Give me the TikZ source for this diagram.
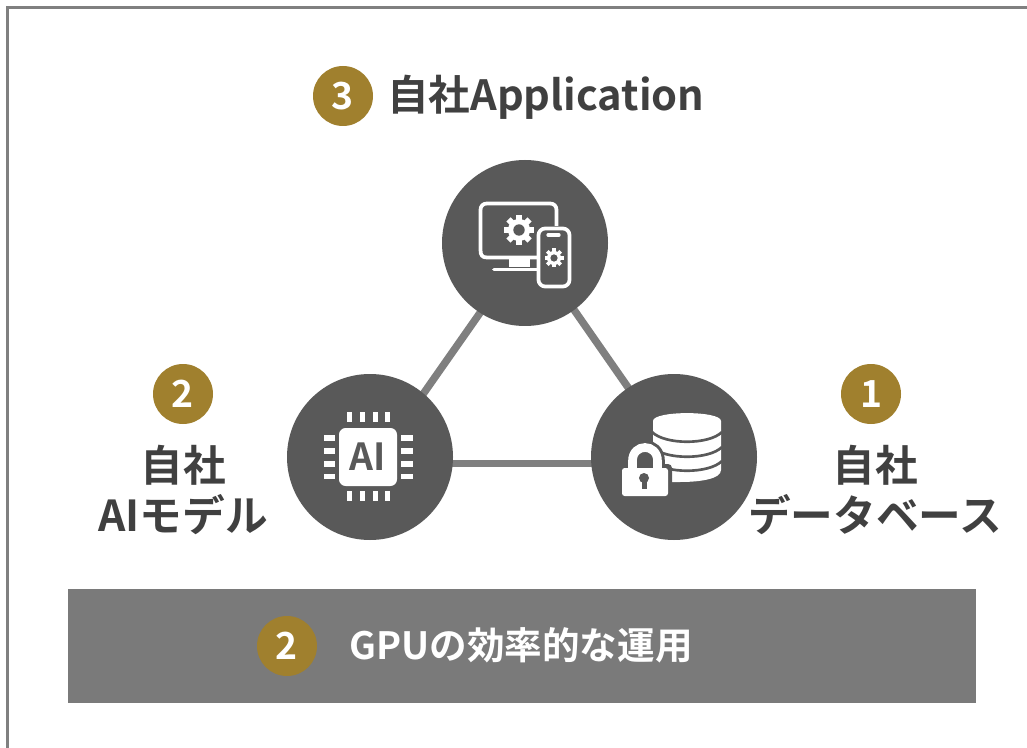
\documentclass[tikz,border=0pt]{standalone}
\usepackage{fontspec}
\setmainfont{Noto Sans CJK JP}[BoldFont={Noto Sans CJK JP Bold}]
\usetikzlibrary{backgrounds}
\definecolor{hubgray}{HTML}{595959}
\definecolor{linkgray}{HTML}{7F7F7F}
\definecolor{bargray}{HTML}{7A7A7A}
\definecolor{framegray}{HTML}{808080}
\definecolor{gold}{HTML}{A0802E}
\definecolor{ink}{HTML}{404040}
\tikzset{
  hub/.style={circle,fill=hubgray,minimum size=124.5pt,inner sep=0pt},
  link/.style={draw=linkgray,line width=5.6pt},
  badge/.style={circle,fill=gold,minimum size=45pt,inner sep=0pt,text=white,font=\bfseries\fontsize{28}{28}\selectfont},
  title/.style={text=ink,inner sep=0pt,align=center,font=\bfseries\fontsize{32}{37.5}\selectfont},
  icon/.style={draw=white,line width=2.8pt,line join=round},
}
\newcommand{\gearicon}[3]{%
  \fill[white] (#1,#2) circle ({0.74*#3});
  \foreach \a in {0,45,...,315}{
    \fill[white,shift={(#1,#2)},rotate=\a] ({0.62*#3},{-0.2*#3}) rectangle (#3,{0.2*#3});
  }
  \fill[hubgray] (#1,#2) circle ({0.38*#3});
}
\begin{document}
\begin{tikzpicture}[x=0.75pt,y=-0.75pt]
\useasboundingbox (0,0) rectangle (1027,748);
\draw[framegray,line width=2.2pt] (7.5,748) -- (7.5,7.3) -- (1027,7.3);

% hubs
\node[hub] (app) at (525,243) {};
\node[hub] (ai) at (370,457) {};
\node[hub] (db) at (674,457) {};
\begin{pgfonlayer}{background}
  \draw[link] ([shift={(4,0)}]app.center) -- ([shift={(9,0)}]ai.center);
  \draw[link] ([shift={(2.5,0)}]app.center) -- ([shift={(2.5,0)}]db.center);
  \draw[link] ([shift={(0,6.5)}]ai.center) -- ([shift={(0,6.5)}]db.center);
\end{pgfonlayer}

% bar
\node[fill=bargray,minimum width=681pt,minimum height=85.5pt,inner sep=0pt] (bar) at (522,646) {};
\node[inner sep=0pt,text=white,font=\bfseries\fontsize{28.2}{28.2}\selectfont] (bartext) at (521,645.5) {GPUの効率的な運用};

% badges and titles
\node[badge] (b3) at (343,96) {3};
\node[title,anchor=west,font=\bfseries\fontsize{31.2}{37.5}\selectfont] (t3) at (387,97) {自社Application};
\node[badge] (b2) at (183,394) {2};
\node[title] (t2) at (183,490) {自社\\AIモデル};
\node[badge] (b1) at (871,394) {1};
\node[title] (t1) at (875,490) {自社\\データベース};
\node[badge] (b4) at (287,646) {2};

% application icon
\draw[icon] (537,257.5) -- (487,257.5)
  .. controls (482,257.5) and (480.5,255) .. (480.5,250) -- (480.5,210)
  .. controls (480.5,206) and (483,203.5) .. (487,203.5) -- (550,203.5)
  .. controls (554,203.5) and (556.5,206) .. (556.5,210) -- (556.5,226);
\fill[white] (509,258) rectangle (530,267);
\draw[white,line width=2.8pt,line cap=round] (494,269.5) -- (537,269.5);
\draw[icon,rounded corners=5pt] (538.5,228.5) rectangle (569.5,286.5);
\draw[white,line width=2.4pt,line cap=round] (548,235) -- (559,235);
\gearicon{519}{230}{15}
\gearicon{554}{258}{9.5}

% AI chip icon
\fill[white,rounded corners=5pt] (339,428) rectangle (397,486);
\node[inner sep=0pt,text=hubgray,font=\bfseries\fontsize{28}{28}\selectfont] (chip) at (368,457) {AI};
\foreach \x in {347,359.5,372.5,384.5}{
  \fill[white] (\x,412) rectangle ++(5,10);
  \fill[white] (\x,490.5) rectangle ++(5,10.5);
}
\foreach \y in {435,448,461,473.5}{
  \fill[white] (323.5,\y) rectangle ++(11.5,5.5);
  \fill[white] (401,\y) rectangle ++(11.5,5.5);
}

% database icon
\fill[white] (653,421) .. controls (653,410.5) and (721,410.5) .. (721,421) -- (721,470)
  .. controls (721,479) and (700,482) .. (680,482) -- (660,482) -- (653,470) -- cycle;
\foreach \e/\m in {432/445,447/460,461/474}{
  \draw[hubgray,line width=2pt] (652,\e) .. controls (665,\m) and (709,\m) .. (722,\e);
}
% lock
\draw[hubgray,line width=11pt] (632.5,472) -- (632.5,461) .. controls (632.5,443) and (657.5,443) .. (657.5,461) -- (657.5,472);
\fill[hubgray,rounded corners=3pt] (618,464) rectangle (672,500);
\draw[white,line width=6.5pt] (632.5,472) -- (632.5,461) .. controls (632.5,443) and (657.5,443) .. (657.5,461) -- (657.5,472);
\fill[white,rounded corners=2pt] (622,468) rectangle (668,496);
\fill[hubgray] (644,478) circle (5);
\fill[hubgray] (641.5,478) rectangle (646.5,489);
\end{tikzpicture}
\end{document}
